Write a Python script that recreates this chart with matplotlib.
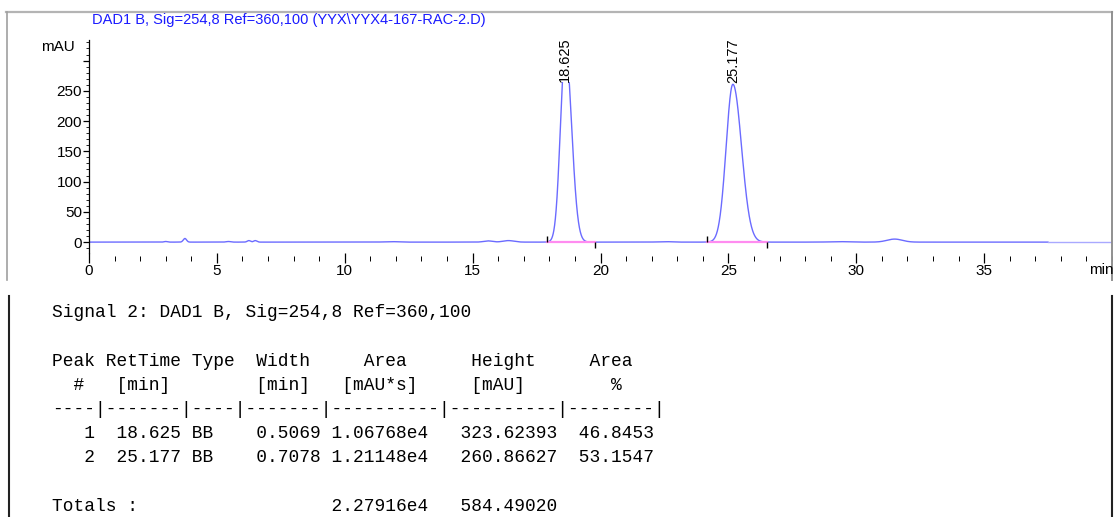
import numpy as np
import matplotlib.pyplot as plt
from matplotlib.lines import Line2D
from matplotlib.ticker import MultipleLocator, FixedLocator

plt.rcParams['font.family'] = ['Liberation Sans', 'DejaVu Sans']

# integrated peaks (values from the report table)
peak_no = [1, 2]
peak_rt = [18.625, 25.177]
peak_type = ['BB', 'BB']
peak_width = [0.5069, 0.7078]
peak_area = [1.06768e4, 1.21148e4]
peak_height = [323.62393, 260.86627]
peak_area_pct = [46.8453, 53.1547]
total_area = 2.27916e4
total_height = 584.49020

# integration start / end marks
peak_start = [17.92, 24.15]
peak_end = [19.77, 26.52]

# small baseline features (min, mAU, fwhm)
bump_rt = [3.0, 3.75, 5.45, 6.25, 6.5, 11.8, 15.6, 16.4, 22.5, 29.3, 31.5]
bump_height = [1.0, 6.0, 1.0, 2.5, 2.5, 0.8, 2.0, 2.5, 0.8, 0.8, 5.0]
bump_width = [0.15, 0.15, 0.2, 0.15, 0.15, 0.6, 0.4, 0.5, 0.6, 0.8, 0.7]

run_end = 37.5
title = r"DAD1 B, Sig=254,8 Ref=360,100 (YYX\YYX4-167-RAC-2.D)"
signal = "Signal 2: DAD1 B, Sig=254,8 Ref=360,100"

W, H = 1114, 517
fig = plt.figure(figsize=(W / 100, H / 100), dpi=100)

# chromatogram area: x 0..40 min -> px 89..1112, y -18..334 mAU -> px 253..40
ax = fig.add_axes([89 / W, 1 - 253 / H, 1023 / W, 213 / H])
ax.set_xlim(0, 40)
ax.set_ylim(-18, 334)


def bigauss(t, rt, h, fwhm, skew=0.56):
    s_left = fwhm * (1 - skew) / 1.1774
    s_right = fwhm * skew / 1.1774
    s = np.where(t < rt, s_left, s_right)
    return h * np.exp(-0.5 * ((t - rt) / s) ** 2)


t = np.arange(0, run_end, 0.005)
signal_y = np.zeros_like(t)
for rt, h, w in zip(peak_rt, peak_height, peak_width):
    signal_y += bigauss(t, rt, h, w)
for rt, h, w in zip(bump_rt, bump_height, bump_width):
    signal_y += bigauss(t, rt, h, w, 0.5)

trace_color = '#6b6bff'
ax.plot(t, signal_y, color=trace_color, lw=1.0)
ax.plot([run_end, 40], [0, 0], color='#a9a9ff', lw=1.0)

# baselines of the integrated peaks with start/end ticks
for s, e in zip(peak_start, peak_end):
    ax.plot([s, e], [0, 0], color='#ff8cf0', lw=1.6, zorder=3)
    ax.vlines(s, 0, 10, color='black', lw=1.0, zorder=4)
    ax.vlines(e, -10, 0, color='black', lw=1.0, zorder=4)

# retention time labels
ytop = ax.get_ylim()[1]
for rt, h in zip(peak_rt, peak_height):
    ypos = min(h + 2, ytop - 70)
    ax.text(rt, ypos, f"{rt:.3f}", rotation=90, ha='center', va='bottom',
            fontsize=10.5, color='black', zorder=5,
            bbox=dict(facecolor='white', edgecolor='none', pad=0))

# axes styling
for side in ['top', 'right', 'bottom']:
    ax.spines[side].set_visible(False)
ax.spines['bottom'].set_position(('outward', 3.3))
ax.spines['left'].set_linewidth(0.9)

ax.xaxis.set_minor_locator(MultipleLocator(1))
ax.set_xticks(range(0, 40, 5))
ax.tick_params(axis='x', which='major', direction='inout', length=6.5,
               width=0.9, labelsize=11, pad=1.5)
ax.tick_params(axis='x', which='minor', direction='inout', length=3.6,
               width=0.7)

yt = list(range(0, 301, 50))
ax.yaxis.set_major_locator(FixedLocator(yt))
ax.set_yticklabels([str(v) if v < 300 else '' for v in yt])
ax.yaxis.set_minor_locator(FixedLocator(list(range(-10, 331, 10))))
ax.tick_params(axis='y', which='major', direction='out', length=4,
               width=0.9, labelsize=11, pad=1)
ax.tick_params(axis='y', which='minor', direction='out', length=2.5,
               width=0.6)

ax.annotate('mAU', xy=(0, 323), xycoords=('axes fraction', 'data'),
            xytext=(-10, 0), textcoords='offset points',
            ha='right', va='center', fontsize=11)
fig.text(1089 / W, 1 - 270 / H, 'min', ha='left', va='center', fontsize=11)
fig.text(92 / W, 1 - 20 / H, title, ha='left', va='center',
         fontsize=10.5, color='#1a1aff')


# frame lines
def frame(xs, ys, color, lw):
    fig.add_artist(Line2D([x / W for x in xs], [1 - y / H for y in ys],
                          color=color, lw=lw, transform=fig.transFigure))


frame([6, 1112], [12, 12], '#b4b4b4', 1.6)
frame([7, 7], [12, 280], '#a0a0a0', 1.2)
frame([1112, 1112], [12, 280], '#909090', 1.4)
frame([9, 9], [296, 517], '#222222', 1.5)
frame([1112, 1112], [296, 517], '#222222', 1.5)


# report table
def sci(a):
    m, e = f"{a:.5e}".split('e')
    return f"{m}e{int(e)}"


rows = []
for n, rt, ty, w, a, h, p in zip(peak_no, peak_rt, peak_type, peak_width,
                                 peak_area, peak_height, peak_area_pct):
    rows.append(f"{n:4d} {rt:7.3f} {ty:<4s} {w:7.4f} {sci(a):<10s} "
                f"{h:10.5f} {p:8.4f}")

lines = [
    signal,
    "",
    "Peak RetTime Type  Width     Area      Height     Area  ",
    "  #   [min]        [min]   [mAU*s]     [mAU]        %   ",
    "----|-------|----|-------|----------|----------|--------|",
] + rows + [
    "",
    f"Totals :                  {sci(total_area):<10s} {total_height:10.5f}",
]

for i, line in enumerate(lines):
    yc = 312 + i * 24.25
    fig.text(52 / W, 1 - (yc + 5) / H, line, ha='left', va='baseline',
             family=['Liberation Mono', 'DejaVu Sans Mono'], fontsize=12.9,
             color='black')

fig.savefig('out.png', dpi=100)
